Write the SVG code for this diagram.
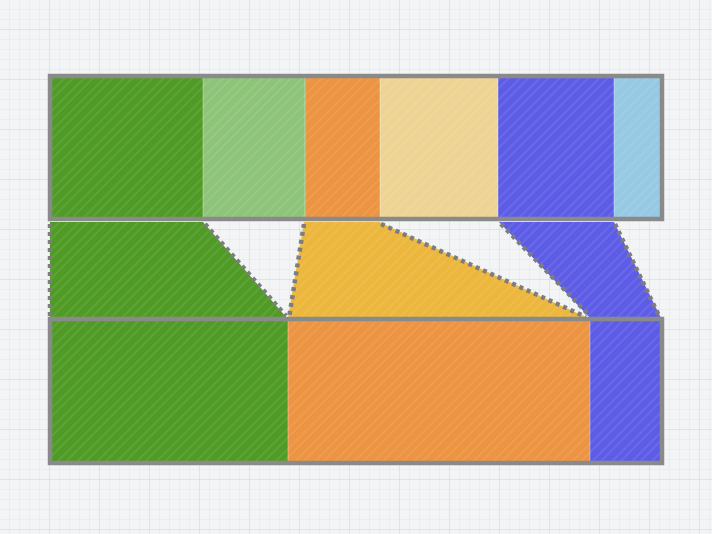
<svg xmlns="http://www.w3.org/2000/svg" width="712" height="534" viewBox="0 0 712 534">
<defs>
<pattern id="fine" width="10" height="10" patternUnits="userSpaceOnUse">
<path d="M10 0V10M0 10H10" fill="none" stroke="#e0e6ee" stroke-width="1"/>
</pattern>
<pattern id="major" width="50" height="50" patternUnits="userSpaceOnUse" x="0" y="-20">
<path d="M50 0V50M0 50H50" fill="none" stroke="#d3dbe5" stroke-width="1"/>
</pattern>
<pattern id="hatch" width="14" height="14" patternUnits="userSpaceOnUse" patternTransform="rotate(-45)">
<path d="M0 3H14M0 9H14" stroke="#ffffff" stroke-opacity="0.1" stroke-width="1.5"/>
</pattern>
<style>
.seg{stroke:none}
.div{stroke:#ffffff;stroke-opacity:0.35;stroke-width:1}
.frame{fill:none;stroke:#8a8a8a;stroke-width:4.5}
.dot{fill:none;stroke:#7d7d7d;stroke-width:4.5;stroke-dasharray:4 4}
</style>
</defs>
<rect width="712" height="534" fill="#f3f4f6"/>
<rect width="712" height="534" fill="url(#fine)"/>
<rect width="712" height="534" fill="url(#major)"/>

<g id="top-bar">
<rect class="seg" x="50" y="76" width="153" height="143" fill="#4f9b26"/>
<rect class="seg" x="203" y="76" width="102" height="143" fill="#8ec47a"/>
<rect class="seg" x="305" y="76" width="75" height="143" fill="#ec9441"/>
<rect class="seg" x="380" y="76" width="118" height="143" fill="#eed494"/>
<rect class="seg" x="498" y="76" width="116" height="143" fill="#5d5ce6"/>
<rect class="seg" x="614" y="76" width="48" height="143" fill="#96c9e3"/>
<rect x="50" y="76" width="612" height="143" fill="url(#hatch)"/>
<path class="div" d="M203 78V217M305 78V217M380 78V217M498 78V217M614 78V217"/>
<rect class="frame" x="50" y="76" width="612" height="143"/>
</g>

<g id="connectors">
<g id="link-green">
<polygon points="50,222 203,222 287,318 50,318" fill="#4f9b26"/>
<polygon points="50,222 203,222 287,318 50,318" fill="url(#hatch)"/>
<path class="dot" d="M205 224L286 316M50 224V318"/>
</g>
<g id="link-yellow">
<polygon points="304,222 379,222 588,318 288,318" fill="#ecb73c"/>
<polygon points="304,222 379,222 588,318 288,318" fill="url(#hatch)"/>
<path class="dot" d="M304 224L289 318M381 224L586 317"/>
</g>
<g id="link-blue">
<polygon points="499,222 614,222 661,318 590,318" fill="#5d5ce6"/>
<polygon points="499,222 614,222 661,318 590,318" fill="url(#hatch)"/>
<path class="dot" d="M501 224L590 316M615 224L660 318"/>
</g>
</g>

<g id="bottom-bar">
<rect class="seg" x="50" y="319" width="238" height="144" fill="#4f9b26"/>
<rect class="seg" x="288" y="319" width="302" height="144" fill="#ec9441"/>
<rect class="seg" x="590" y="319" width="72" height="144" fill="#5d5ce6"/>
<rect x="50" y="319" width="612" height="144" fill="url(#hatch)"/>
<path class="div" d="M288 321V461M590 321V461"/>
<rect class="frame" x="50" y="319" width="612" height="144"/>
</g>
</svg>
